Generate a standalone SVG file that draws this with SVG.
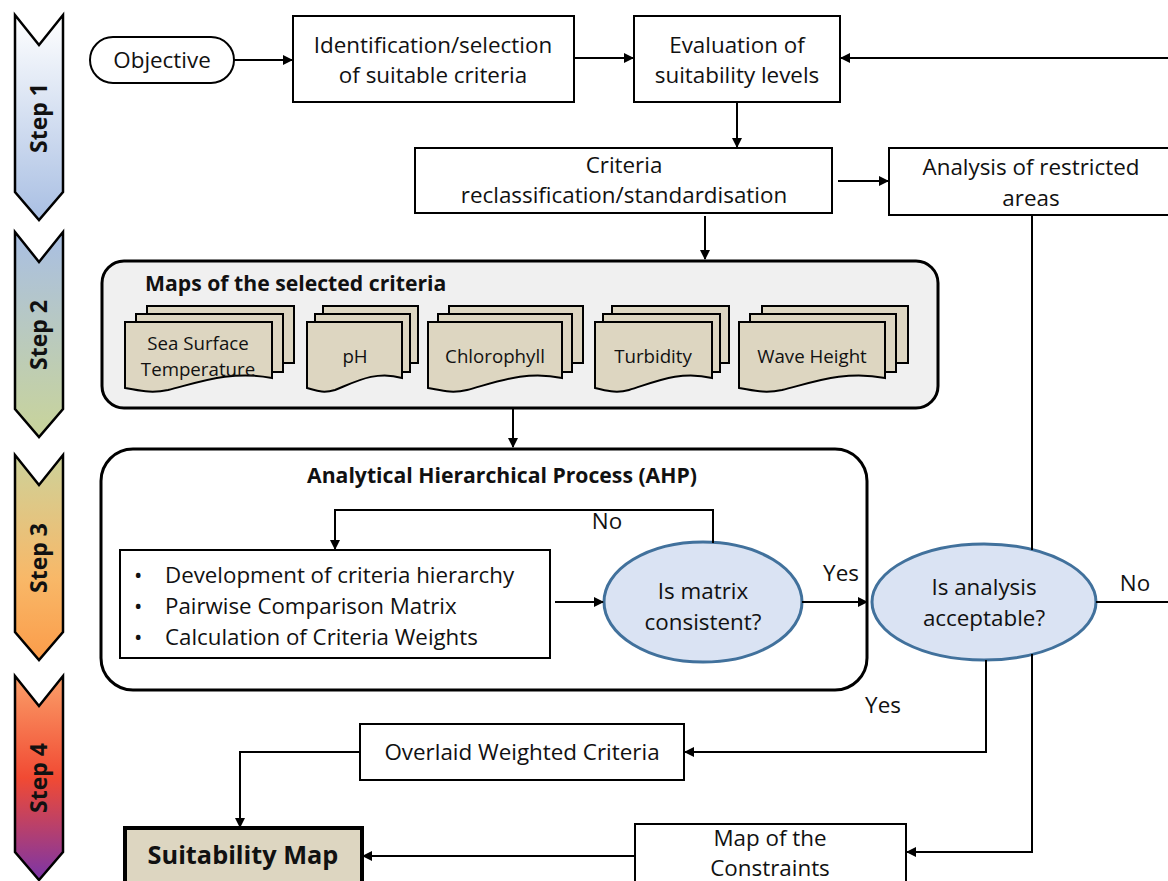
<svg xmlns="http://www.w3.org/2000/svg" width="1168" height="881" viewBox="0 0 1168 881">
<defs>
<marker id="arr" markerWidth="10" markerHeight="10" refX="9" refY="5" orient="auto" markerUnits="userSpaceOnUse">
<path d="M0,0 L10,5 L0,10 Z" fill="#000"/>
</marker>
<linearGradient id="g1" x1="0" y1="0" x2="0" y2="1"><stop offset="0" stop-color="#ffffff"/><stop offset="1" stop-color="#a9bfe3"/></linearGradient>
<linearGradient id="g2" x1="0" y1="0" x2="0" y2="1"><stop offset="0" stop-color="#a9bfe3"/><stop offset="1" stop-color="#c9d49a"/></linearGradient>
<linearGradient id="g3" x1="0" y1="0" x2="0" y2="1"><stop offset="0" stop-color="#cdd29a"/><stop offset="0.6" stop-color="#f8b868"/><stop offset="1" stop-color="#fb9c4a"/></linearGradient>
<linearGradient id="g4" x1="0" y1="0" x2="0" y2="1"><stop offset="0" stop-color="#fba069"/><stop offset="0.5" stop-color="#f14a33"/><stop offset="1" stop-color="#7b35a8"/></linearGradient>
</defs>
<style>
text{font-family:"Open Sans","Liberation Sans",sans-serif;fill:#111;}
.t{font-size:22.4px;text-anchor:middle;}
.tl{font-size:22.3px;}
.d{font-size:18.7px;text-anchor:middle;}
.b{font-weight:bold;}
.box{fill:#fff;stroke:#000;stroke-width:2;}
.chev{stroke:#000;stroke-width:2.5;}
.step{font-size:23px;font-weight:bold;text-anchor:middle;}
.doc{fill:#ddd6c1;stroke:#000;stroke-width:2;}
.ell{fill:#dae3f3;stroke:#41719c;stroke-width:3;}
.con{fill:none;stroke:#000;stroke-width:2;}
.ca{fill:none;stroke:#000;stroke-width:2;marker-end:url(#arr);}
</style>

<g id="steps">
<g id="step1"><path class="chev" fill="url(#g1)" d="M15,15 L39,45 L63,15 L63,192 L39,220 L15,192 Z"/><text class="step" transform="translate(47,118) rotate(-90)">Step 1</text></g>
<g id="step2"><path class="chev" fill="url(#g2)" d="M15,232 L39,262 L63,232 L63,409 L39,437 L15,409 Z"/><text class="step" transform="translate(47,335) rotate(-90)">Step 2</text></g>
<g id="step3"><path class="chev" fill="url(#g3)" d="M15,455 L39,485 L63,455 L63,632 L39,660 L15,632 Z"/><text class="step" transform="translate(47,558) rotate(-90)">Step 3</text></g>
<g id="step4"><path class="chev" fill="url(#g4)" d="M15,676 L39,706 L63,676 L63,852 L39,880 L15,852 Z"/><text class="step" transform="translate(47,778) rotate(-90)">Step 4</text></g>
</g>

<g id="objective"><rect class="box" x="90" y="37" width="144" height="46" rx="23"/><text class="t" x="162" y="68">Objective</text></g>

<g id="identification"><rect class="box" x="293" y="16" width="281" height="86"/><text class="t" x="433" y="53">Identification/selection</text><text class="t" x="433" y="83">of suitable criteria</text></g>

<g id="evaluation"><rect class="box" x="634" y="16" width="206" height="86"/><text class="t" x="737" y="53">Evaluation of</text><text class="t" x="737" y="83">suitability levels</text></g>

<g id="criteria"><rect class="box" x="415" y="148" width="417" height="65"/><text class="t" x="624" y="173">Criteria</text><text class="t" x="624" y="203">reclassification/standardisation</text></g>

<g id="restricted"><rect class="box" x="889" y="148" width="290" height="67"/><text class="t" x="1031" y="175">Analysis of restricted</text><text class="t" x="1031" y="206">areas</text></g>

<g id="maps">
<rect x="102" y="261" width="836" height="147" rx="22" fill="#f0f0f0" stroke="#000" stroke-width="3"/>
<text class="tl b" x="145" y="291" style="font-size:21.2px">Maps of the selected criteria</text>
<g id="doc-sst">
<rect class="doc" x="147" y="306" width="147" height="57"/>
<rect class="doc" x="136" y="314" width="147" height="58"/>
<path class="doc" d="M125,322 H272 V378 C232,370 200,382 168,390 C150,394 138,390 125,388 Z"/>
<text class="d" x="198" y="350">Sea Surface</text><text class="d" x="198" y="376">Temperature</text>
</g>
<g id="doc-ph">
<rect class="doc" x="323" y="306" width="95" height="57"/>
<rect class="doc" x="315" y="314" width="95" height="58"/>
<path class="doc" d="M307,322 H402 V378 C376,370 355,382 335,390 C322,394 315,390 307,388 Z"/>
<text class="d" x="355" y="363">pH</text>
</g>
<g id="doc-chl">
<rect class="doc" x="449" y="306" width="134" height="57"/>
<rect class="doc" x="438" y="314" width="134" height="58"/>
<path class="doc" d="M428,322 H562 V378 C526,370 497,382 467,390 C451,394 440,390 428,388 Z"/>
<text class="d" x="495" y="363">Chlorophyll</text>
</g>
<g id="doc-turb">
<rect class="doc" x="612" y="306" width="117" height="57"/>
<rect class="doc" x="603" y="314" width="117" height="58"/>
<path class="doc" d="M595,322 H712 V378 C680,370 655,382 629,390 C615,394 605,390 595,388 Z"/>
<text class="d" x="653" y="363">Turbidity</text>
</g>
<g id="doc-wave">
<rect class="doc" x="762" y="306" width="146" height="57"/>
<rect class="doc" x="750" y="314" width="146" height="58"/>
<path class="doc" d="M739,322 H885 V378 C846,370 814,382 782,390 C764,394 752,390 739,388 Z"/>
<text class="d" x="812" y="363">Wave Height</text>
</g>
</g>

<g id="ahp">
<rect x="101" y="449" width="766" height="241" rx="32" fill="#fff" stroke="#000" stroke-width="3"/>
<text class="t b" x="502" y="483" style="font-size:21.2px">Analytical Hierarchical Process (AHP)</text>
</g>

<g id="bullets"><rect class="box" x="120" y="550" width="430" height="108"/>
<text class="tl" x="134" y="583">•</text><text class="tl" x="165" y="583">Development of criteria hierarchy</text>
<text class="tl" x="134" y="614">•</text><text class="tl" x="165" y="614">Pairwise Comparison Matrix</text>
<text class="tl" x="134" y="645">•</text><text class="tl" x="165" y="645">Calculation of Criteria Weights</text>
</g>

<g id="matrix"><ellipse class="ell" cx="703" cy="602" rx="99" ry="60"/><text class="t" x="703" y="599">Is matrix</text><text class="t" x="703" y="630">consistent?</text></g>

<g id="acceptable"><ellipse class="ell" cx="984" cy="602" rx="112" ry="58"/><text class="t" x="984" y="595">Is analysis</text><text class="t" x="984" y="626">acceptable?</text></g>

<g id="overlaid"><rect class="box" x="360" y="724" width="324" height="56"/><text class="t" x="522" y="760">Overlaid Weighted Criteria</text></g>

<g id="suitability"><rect x="125" y="828" width="237" height="70" fill="#ddd6c1" stroke="#000" stroke-width="4"/><text class="t b" x="243" y="864" style="font-size:25.3px">Suitability Map</text></g>

<g id="constraints"><rect class="box" x="635" y="824" width="271" height="70"/><text class="t" x="770" y="846">Map of the</text><text class="t" x="770" y="876">Constraints</text></g>

<g id="connectors">
<path class="ca" d="M234,60 H292"/>
<path class="ca" d="M574,58 H633"/>
<path class="ca" d="M1168,58 H841"/>
<path class="ca" d="M737,102 V147"/>
<path class="ca" d="M838,181 H888"/>
<path class="ca" d="M705,216 V259"/>
<path class="ca" d="M513,408 V447"/>
<path class="ca" d="M555,602 H603"/>
<path class="ca" d="M713,543 V510 H335 V549"/>
<path class="ca" d="M802,602 H867"/>
<path class="con" d="M1096,602 H1168"/>
<path class="ca" d="M986,660 V752 H685"/>
<path class="ca" d="M360,752 H240 V827"/>
<path class="con" d="M1032,215 V550"/>
<path class="ca" d="M1032,654 V852 H907"/>
<path class="ca" d="M635,856 H363"/>
<text class="t" x="607" y="529">No</text>
<text class="t" x="841" y="581">Yes</text>
<text class="t" x="1135" y="591">No</text>
<text class="t" x="883" y="713">Yes</text>
</g>
</svg>
